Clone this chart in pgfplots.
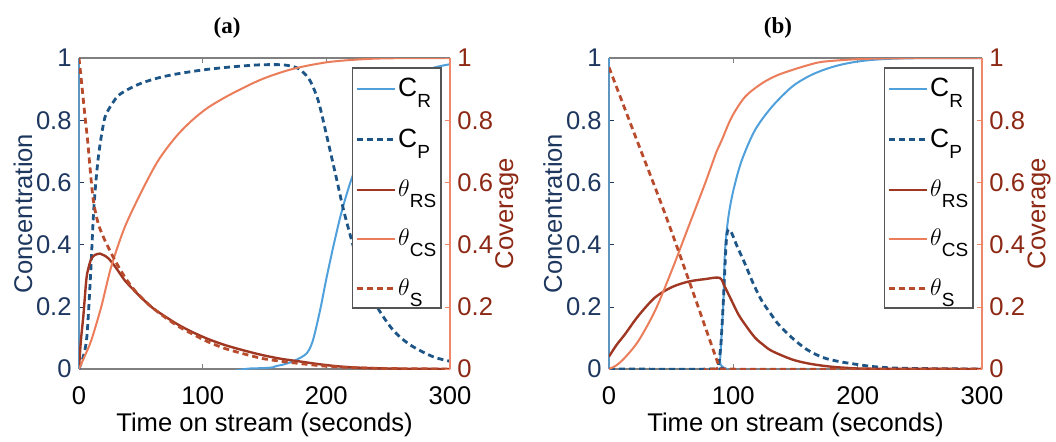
\documentclass[border=0pt]{standalone}
\usepackage{fontspec}
\setmainfont{Liberation Sans}
\newfontfamily\titlefont{Liberation Serif}
\usepackage{pgfplots}
\pgfplotsset{compat=1.18}

\definecolor{cR}{RGB}{80,160,220}
\definecolor{cP}{RGB}{30,85,135}
\definecolor{tRS}{RGB}{160,55,35}
\definecolor{tCS}{RGB}{235,125,90}
\definecolor{tS}{RGB}{185,75,45}
\definecolor{navy}{RGB}{30,55,95}
\definecolor{rust}{RGB}{140,40,20}
\definecolor{raxis}{RGB}{240,135,105}
\definecolor{frame}{RGB}{128,128,128}

\newcommand\sub[1]{\raisebox{-5.5pt}{\fontsize{9.5}{9.5}\selectfont #1}}

\pgfplotsset{
  panel/.style={
    scale only axis, height=155.5pt,
    xmin=0, xmax=300, ymin=0, ymax=1,
    xtick={0,100,200,300}, ytick={0,0.2,0.4,0.6,0.8,1},
    tick align=inside, major tick length=2.5pt,
    /pgf/number format/assume math mode=true,
    ticklabel style={font=\fontsize{12.8}{14}\selectfont, inner sep=0pt},
    label style={font=\fontsize{12.8}{14}\selectfont},
  },
  leftpanel/.style={
    panel,
    separate axis lines,
    axis line style={line width=0.7pt},
    every outer x axis line/.append style={frame},
    every outer y axis line/.append style={cR!70!gray},
    xtick pos=both, ytick pos=left,
    x tick style={frame}, y tick style={navy},
    yticklabel style={navy, xshift=-3.5pt},
    xticklabel style={yshift=-8.4pt},
    xlabel={Time on stream (seconds)},
    xlabel style={at={(axis description cs:0.5,-0.18)}, anchor=center},
    ylabel={Concentration},
    ylabel style={navy, at={(axis description cs:-0.151,0.5)}, anchor=center},
    legend style={at={(1,1)}, anchor=north east, xshift=-4pt, yshift=-4.5pt,
      draw={rgb,255:red,85;green,85;blue,85}, line width=0.8pt,
      font=\fontsize{13.2}{15}\selectfont, row sep=10.8pt,
      inner xsep=1.5pt, inner ysep=3pt, cells={anchor=west},
      nodes={inner xsep=1pt}},
    legend image code/.code={\draw[#1] (0pt,0pt) -- (19pt,0pt);},
  },
  rightpanel/.style={
    panel,
    axis x line=none, axis y line*=right,
    axis line style={raxis, line width=0.9pt},
    y tick style={raxis},
    yticklabel style={rust, xshift=3.5pt},
    ylabel={Coverage},
    ylabel style={rust, at={(axis description cs:1.153,0.5)}, anchor=center},
  },
  sR/.style={cR, line width=1pt, smooth, tension=0.5},
  sP/.style={cP, line width=1.4pt, dash pattern=on 3pt off 2pt, smooth, tension=0.5},
  sRS/.style={tRS, line width=1.2pt, smooth, tension=0.5},
  sCS/.style={tCS, line width=1pt, smooth, tension=0.5},
  sS/.style={tS, line width=1.4pt, dash pattern=on 3pt off 2pt, smooth, tension=0.5},
}

\begin{document}
\begin{tikzpicture}

% ---------- (a)
\begin{axis}[leftpanel, width=185.5pt, at={(39.5pt,36pt)}, anchor=south west]
\addplot[sR] coordinates {
(0,1) (0,0) (140,0.002) (160,0.01) (170,0.02) (176,0.03) (184,0.05) (189,0.09)
(195,0.19) (200,0.29) (206,0.40) (212,0.50) (219,0.595) (226,0.67) (233,0.74)
(240,0.80) (250,0.865) (260,0.91) (270,0.94) (280,0.96) (290,0.972) (300,0.98)};
\addplot[sP] coordinates {
(0,0) (3.5,0.04) (6,0.09) (7.5,0.17) (9.7,0.33) (11.6,0.49) (13.5,0.595) (15.6,0.68)
(18.3,0.755) (21,0.81) (24,0.835) (28,0.86) (32,0.88) (40,0.90) (51,0.92) (65,0.937)
(78,0.948) (92,0.957) (105,0.964) (125,0.972) (146,0.978) (165,0.978) (176,0.969)
(181,0.955) (187,0.926) (193.5,0.862) (200,0.755) (208,0.616) (214,0.51) (222,0.392)
(226,0.34) (233,0.27) (241,0.20) (254,0.125) (268,0.077) (286,0.04) (300,0.025)};
\addplot[sRS] coordinates {
(0,0) (1.5,0.09) (3.5,0.17) (6,0.29) (8,0.33) (10,0.355) (13,0.367) (17,0.371)
(20,0.366) (24,0.355) (30,0.325) (37,0.285) (44,0.255) (51,0.227) (60,0.195)
(70,0.168) (80,0.143) (91,0.12) (104,0.097) (118,0.077) (133,0.06) (148,0.045)
(163,0.033) (179,0.024) (195,0.015) (214,0.007) (235,0.003) (260,0.001) (300,0)};
\addplot[sCS] coordinates {
(0,0) (5,0.045) (10,0.093) (18,0.2) (26,0.328) (37,0.456) (51,0.574) (64,0.67)
(78,0.745) (91,0.798) (104.5,0.841) (123,0.884) (148,0.932) (173,0.965) (200,0.986)
(225,0.995) (250,0.999) (300,1)};
\addplot[sS] coordinates {
(0,1) (2.2,0.916) (4.9,0.81) (7,0.734) (8.9,0.648) (11.6,0.542) (15.6,0.467)
(21,0.413) (29,0.35) (37,0.296) (45,0.253) (57,0.205) (70,0.165) (80,0.138)
(91,0.114) (104,0.088) (118,0.066) (133,0.049) (148,0.034) (165,0.024) (180,0.017)
(200,0.009) (225,0.004) (260,0.001) (300,0)};
\legend{C\sub{R}, C\sub{P}, $\theta$\sub{RS}, $\theta$\sub{CS}, $\theta$\sub{S}}
\end{axis}
\begin{axis}[rightpanel, width=185.5pt, at={(39.5pt,36pt)}, anchor=south west]
\addplot[draw=none] coordinates {(0,0) (300,1)};
\end{axis}

% ---------- (b)
\begin{axis}[leftpanel, width=186.5pt, at={(304.5pt,36pt)}, anchor=south west]
\addplot[sR] coordinates {
(0,1) (0,0) (88,0) (89.3,0.026) (92,0.22) (93.3,0.38) (96,0.488) (100,0.574)
(106.7,0.67) (117.4,0.768) (131,0.843) (147,0.907) (160,0.94) (172,0.961)
(185,0.977) (199,0.988) (215,0.995) (240,0.999) (300,1)};
\addplot[sP] coordinates {
(0,0) (86,0) (88,0.01) (90,0.08) (92,0.22) (94.6,0.424) (97.5,0.445) (103,0.395)
(109.4,0.338) (116,0.275) (122.8,0.22) (130,0.178) (136.2,0.144) (147,0.101)
(159,0.063) (172,0.037) (185,0.024) (199,0.015) (212,0.008) (230,0.003)
(260,0.001) (300,0)};
\addplot[sRS] coordinates {
(0,0.04) (6,0.077) (12.9,0.112) (23.6,0.171) (37,0.23) (50.4,0.263) (63.8,0.281)
(77.2,0.289) (89,0.293) (93.3,0.263) (98,0.225) (104,0.176) (110,0.14)
(117.4,0.101) (124,0.078) (131,0.058) (147,0.031) (160,0.018) (175,0.009)
(190,0.004) (210,0.001) (300,0)};
\addplot[sCS] coordinates {
(0,0) (6,0.012) (12.9,0.037) (23.6,0.09) (37,0.187) (50.4,0.316) (63.8,0.456)
(77.2,0.596) (86.6,0.70) (90.6,0.735) (98.7,0.81) (109.4,0.875) (122.8,0.918)
(135,0.944) (147,0.961) (160,0.977) (172,0.988) (199,0.996) (230,0.999) (300,1)};
\addplot[sS] coordinates {
(0,0.97) (22,0.74) (45,0.5) (66,0.265) (87.9,0.015) (89.5,0) (300,0)};
\legend{C\sub{R}, C\sub{P}, $\theta$\sub{RS}, $\theta$\sub{CS}, $\theta$\sub{S}}
\end{axis}
\begin{axis}[rightpanel, width=186.5pt, at={(304.5pt,36pt)}, anchor=south west]
\addplot[draw=none] coordinates {(0,0) (300,1)};
\end{axis}

\node[font=\titlefont\bfseries\fontsize{11.5}{13}\selectfont] at (113.5pt,206.5pt) {(a)};
\node[font=\titlefont\bfseries\fontsize{11.5}{13}\selectfont] at (389pt,206.5pt) {(b)};

\pgfresetboundingbox
\path[use as bounding box] (0,0) rectangle (528pt,220.5pt);
\end{tikzpicture}
\end{document}
